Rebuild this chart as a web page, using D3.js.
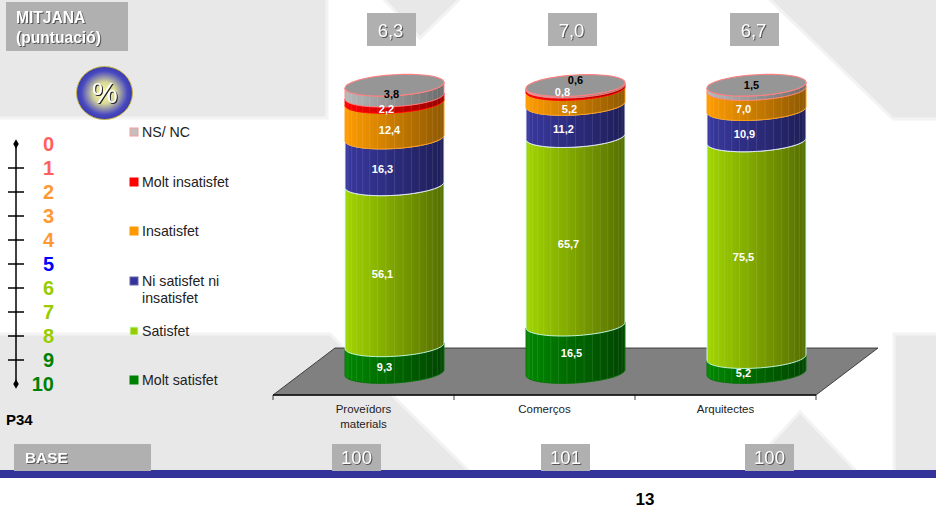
<!DOCTYPE html>
<html>
<head>
<meta charset="utf-8">
<script src="https://cdn.jsdelivr.net/npm/d3@7/dist/d3.min.js"></script>
<style>
  html, body { margin: 0; padding: 0; background: #fff; }
  svg { display: block; }
  text { font-family: "Liberation Sans", Arial, sans-serif; }
  .raised { filter: drop-shadow(1px 1px 0 #555); }
</style>
</head>
<body>
<svg id="chart" width="936" height="520"></svg>
<script>
// Satisfaction survey, question P34: share of answers per group (%)
const groups = ["Proveïdors materials", "Comerços", "Arquitectes"];
const answers = ["Molt satisfet", "Satisfet", "Ni satisfet ni insatisfet", "Insatisfet", "Molt insatisfet", "NS/ NC"];
const moltSatisfet   = [9.3, 16.5, 5.2];
const satisfet       = [56.1, 65.7, 75.5];
const niNi           = [16.3, 11.2, 10.9];
const insatisfet     = [12.4, 5.2, 7.0];
const moltInsatisfet = [2.2, 0.8, 0];
const nsNc           = [3.8, 0.6, 1.5];
const meanScores = ["6,3", "7,0", "6,7"];
const bases = [100, 101, 100];
const scoreTicks = [0, 1, 2, 3, 4, 5, 6, 7, 8, 9, 10];

const seriesValues = [moltSatisfet, satisfet, niNi, insatisfet, moltInsatisfet, nsNc];

// Palette per answer: lit side, shaded side, outline
const light  = ["#008800", "#a2d600", "#38389f", "#ff9c00", "#ff0000", "#b8b8b8"];
const shade  = ["#004400", "#566e00", "#1e1e58", "#8f5800", "#960000", "#6c6c6c"];
const edge   = ["#007000", "#ccffee", "#eeeeff", "#ff9900", "#ff0000", "#ff8080"];
const swatch = ["#008000", "#99cc00", "#333399", "#ff9900", "#ff0000", "#c0c0c0"];
const swatchEdge = ["#008000", "#ccffcc", "#6666aa", "#ff9900", "#ff0000", "#ff9999"];
const scoreColor = s => s < 2 ? "#ff5f5f" : s < 5 ? "#ff9933" : s === 5 ? "#0000ff" : s < 9 ? "#99cc00" : "#008000";

const svg = d3.select("#chart");
const defs = svg.append("defs");

// Backdrop shapes
const wash = svg.append("g").attr("fill", "#e8e8e8").attr("stroke", "#f3f3f3").attr("stroke-width", 3);
[
  [[-5, -5], [327, -5], [327, 118], [-5, 118]],
  [[380, -5], [420, 38], [464, -5]],
  [[765, -5], [941, -5], [941, 119], [893, 119]],
  [[-5, 334], [330, 334], [473, 475], [-5, 475]],
  [[800, 412], [742, 475], [860, 475]],
  [[894, 334], [941, 334], [941, 475], [894, 475]]
].forEach(p => wash.append("polygon").attr("points", p.join(" ")));

// Scales
const x = d3.scaleBand().domain(groups).range([273, 816]);
const y = d3.scaleLinear().domain([0, 100]).range([372.5, 85.5]);
const depth = 62, floorHeight = 47, floorFront = 395;
const rx = 49.5, ry = 10.5, tilt = 0.058;
const barX = g => x(g) + x.bandwidth() / 2 + depth / 2;

// Floor of the 3D plot
svg.append("polygon")
  .attr("points", [
    [x.range()[0], floorFront],
    [x.range()[0] + depth, floorFront - floorHeight],
    [x.range()[1] + depth, floorFront - floorHeight],
    [x.range()[1], floorFront]
  ].join(" "))
  .attr("fill", "#808080").attr("stroke", "#222").attr("stroke-width", 0.8);

const axisG = svg.append("g").attr("transform", `translate(0,${floorFront})`)
  .attr("stroke", "#111");
axisG.append("line").attr("x1", x.range()[0]).attr("x2", x.range()[1]).attr("stroke-width", 1.4);
d3.range(groups.length + 1).forEach(i => {
  const px = x.range()[0] + i * x.bandwidth();
  axisG.append("line").attr("x1", px).attr("x2", px).attr("y2", 5).attr("stroke-width", 0.8);
});

// Category names under the floor
groups.forEach(g => {
  const words = g.split(" ");
  const t = svg.append("text").attr("text-anchor", "middle").attr("font-size", 11.5).attr("fill", "#222");
  words.forEach((w, i) => t.append("tspan")
    .attr("x", x(g) + x.bandwidth() / 2).attr("y", 413 + i * 15).text(w));
});

// Side gradients, one per answer
answers.forEach((a, i) => {
  const gr = defs.append("linearGradient").attr("id", "side" + i);
  gr.append("stop").attr("offset", "0").attr("stop-color", light[i]);
  gr.append("stop").attr("offset", "1").attr("stop-color", shade[i]);
});

// Curves along the cylinder's front, left to right
const angles = d3.range(0, 41).map(k => Math.PI - k * Math.PI / 40);
const rimPoint = (cx, cy, t) => [
  cx + rx * Math.cos(t),
  cy + ry * Math.sin(t) - tilt * rx * Math.cos(t)
];
const curve = d3.line();
const band = (cx, y0, y1) =>
  curve(angles.map(t => rimPoint(cx, y1, t))) + "L" +
  curve(angles.slice().reverse().map(t => rimPoint(cx, y0, t))).slice(1) + "Z";

// Facets of the cylinder, seen as faint vertical seams
const seamAngles = d3.range(1, 18).map(k => Math.PI - k * Math.PI / 18);

const barsG = svg.append("g");
groups.forEach((g, gi) => {
  const cx = barX(g);
  let acc = 0;
  seriesValues.forEach((vals, si) => {
    const v = vals[gi];
    if (v <= 0) return;
    const y0 = y(acc), y1 = y(acc + v);
    acc += v;
    barsG.append("path").attr("d", band(cx, y0, y1))
      .attr("fill", `url(#side${si})`);
    seamAngles.forEach(t => {
      const a = rimPoint(cx, y0, t), b = rimPoint(cx, y1, t);
      barsG.append("line")
        .attr("x1", a[0]).attr("y1", a[1]).attr("x2", b[0]).attr("y2", b[1])
        .attr("stroke", "#fff").attr("stroke-opacity", 0.13).attr("stroke-width", 0.8);
    });
    barsG.append("path").attr("d", band(cx, y0, y1))
      .attr("fill", "none").attr("stroke", edge[si]).attr("stroke-width", 0.9);
  });
  // Cap of the stack
  const capY = y(acc);
  const full = d3.range(0, 73).map(k => rimPoint(cx, capY, k * Math.PI / 36));
  barsG.append("path").attr("d", d3.line()(full) + "Z")
    .attr("fill", "#969696").attr("stroke", "#ff8080").attr("stroke-width", 1.1);
});

// Value labels, each nudged to sit clear of the band edges
const nudges = {
  "0-0": [-10, 8], "0-1": [-12, 9], "0-2": [-12, 8], "0-3": [-5, 10], "0-4": [-8, 10], "0-5": [-3, 3],
  "1-0": [-4, 4], "1-1": [-7, 13], "1-2": [-12, 8.5], "1-3": [-6, 12], "1-4": [-13, 4], "1-5": [0, -6],
  "2-0": [-13, 8], "2-1": [-13, 8], "2-2": [-12, 8.7], "2-3": [-13, 9.4], "2-5": [-5, -2]
};
const fmt = v => v.toFixed(1).replace(".", ",");
groups.forEach((g, gi) => {
  let acc = 0;
  seriesValues.forEach((vals, si) => {
    const v = vals[gi];
    if (v <= 0) return;
    const [dx, dy] = nudges[gi + "-" + si];
    svg.append("text")
      .attr("x", barX(g) + dx).attr("y", y(acc + v / 2) + dy)
      .attr("dy", "0.35em").attr("text-anchor", "middle")
      .attr("font-size", 11).attr("font-weight", "bold")
      .attr("fill", si === 5 ? "#000" : "#fff")
      .text(fmt(v));
    acc += v;
  });
});

// Legend, top entry first
const legendY = [380, 331, 281, 231, 182, 132];
answers.forEach((a, i) => {
  svg.append("rect").attr("x", 130).attr("y", legendY[i] - 4).attr("width", 8).attr("height", 8)
    .attr("fill", swatch[i]).attr("stroke", swatchEdge[i]).attr("stroke-width", 1);
  const t = svg.append("text").attr("font-size", 14.2).attr("fill", "#222");
  const lines = a === "Ni satisfet ni insatisfet" ? ["Ni satisfet ni", "insatisfet"] : [a];
  lines.forEach((l, k) => t.append("tspan").attr("x", 142).attr("y", legendY[i] + 5 + k * 17).text(l));
});

// Score ruler 0-10
const s = d3.scaleLinear().domain([0, 10]).range([144, 384]);
svg.append("line").attr("x1", 16).attr("x2", 16).attr("y1", s(0)).attr("y2", s(10))
  .attr("stroke", "#000").attr("stroke-width", 1.5);
scoreTicks.forEach(t => {
  if (t === 0 || t === 10) {
    svg.append("path").attr("d", d3.symbol(d3.symbolDiamond, 26)())
      .attr("transform", `translate(16,${s(t)})`).attr("fill", "#000");
  } else {
    svg.append("line").attr("x1", 8).attr("x2", 24).attr("y1", s(t)).attr("y2", s(t))
      .attr("stroke", "#000").attr("stroke-width", 1.5);
  }
  svg.append("text").attr("x", 54).attr("y", s(t) + 7).attr("text-anchor", "end")
    .attr("font-size", 20).attr("font-weight", "bold").attr("fill", scoreColor(t)).text(t);
});

// Bottom rule
svg.append("rect").attr("x", 0).attr("y", 470).attr("width", 936).attr("height", 8).attr("fill", "#333399");

// Grey caption plates
function plate(px, py, w, h) {
  svg.append("rect").attr("x", px).attr("y", py).attr("width", w).attr("height", h).attr("fill", "#b0b0b0");
}
function raised(px, py, size, str, weight, anchor) {
  svg.append("text").attr("class", "raised").attr("x", px).attr("y", py)
    .attr("font-size", size).attr("font-weight", weight).attr("fill", "#fff")
    .attr("text-anchor", anchor).text(str);
}
plate(6, 2, 122, 49);
raised(16, 23, 15.6, "MITJANA", "bold", "start");
raised(16, 43, 15.6, "(puntuació)", "bold", "start");

const scoreCentre = [391.5, 572.5, 754.5];
meanScores.forEach((m, i) => {
  plate(scoreCentre[i] - 24.5, 13, 49, 33);
  raised(scoreCentre[i] - 1, 37, 18.5, m, "normal", "middle");
});
plate(14, 444, 137, 27);
raised(25, 463, 15.4, "BASE", "bold", "start");
const baseCentre = [356.5, 565.5, 769.5];
bases.forEach((b, i) => {
  plate(baseCentre[i] - 24.5, 444, 49, 27);
  raised(baseCentre[i], 464, 18.5, b, "normal", "middle");
});

// Percent badge
const badge = defs.append("radialGradient").attr("id", "badge");
badge.append("stop").attr("offset", "0").attr("stop-color", "#ffffa8");
badge.append("stop").attr("offset", "0.4").attr("stop-color", "#d8d898");
badge.append("stop").attr("offset", "0.82").attr("stop-color", "#4a4ac0");
badge.append("stop").attr("offset", "1").attr("stop-color", "#3838b0");
svg.append("ellipse").attr("cx", 104.5).attr("cy", 93).attr("rx", 28).attr("ry", 26.5)
  .attr("fill", "url(#badge)").attr("stroke", "#c8b840").attr("stroke-width", 1);
svg.append("text").attr("x", 105).attr("y", 103).attr("text-anchor", "middle")
  .attr("font-size", 29).attr("fill", "#fff")
  .style("filter", "drop-shadow(1px 1px 0 #222)").text("%");

svg.append("text").attr("x", 6).attr("y", 425).attr("font-size", 15).attr("font-weight", "bold").attr("fill", "#000").text("P34");
svg.append("text").attr("x", 645).attr("y", 505).attr("text-anchor", "middle")
  .attr("font-size", 17).attr("font-weight", "bold").attr("fill", "#000").text("13");
</script>
</body>
</html>
